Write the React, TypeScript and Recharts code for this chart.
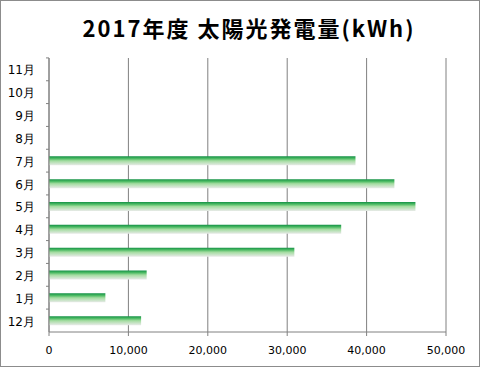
import React from 'react';
import { BarChart, Bar, XAxis, YAxis, CartesianGrid } from 'recharts';

const months = ['12月', '1月', '2月', '3月', '4月', '5月', '6月', '7月', '8月', '9月', '10月', '11月'];
const generation = [11600, 7100, 12300, 30900, 36800, 46150, 43500, 38600, null, null, null, null];
const xTicks = [0, 10000, 20000, 30000, 40000, 50000];

const data = months.map((m, i) => ({ month: m, kwh: generation[i] }));

const BAND = 23;

const MonthTick = (props: any) => {
  const { x, y, payload } = props;
  return (
    <g>
      <line x1={x - 3} x2={x} y1={y - BAND / 2} y2={y - BAND / 2} stroke="#808080" />
      <text x={x - 14} y={y} dy={5} textAnchor="end" fontSize={12} fill="#000" fontFamily="'DejaVu Sans', sans-serif">
        {payload.value}
      </text>
    </g>
  );
};

const App: React.FC = () => {
  return (
    <div
      style={{
        position: 'absolute',
        left: 0,
        top: 0,
        width: 480,
        height: 367,
        border: '1px solid #8c8c8c',
        background: '#fff',
        boxSizing: 'border-box',
      }}
    >
      <div
        style={{
          position: 'absolute',
          top: 11,
          left: 0,
          width: 496,
          textAlign: 'center',
          fontFamily: "'Noto Sans CJK JP', sans-serif",
          fontWeight: 700,
          fontSize: 22,
          letterSpacing: 2,
          color: '#000',
          lineHeight: '30px',
        }}
      >
        2017年度 太陽光発電量(kWh)
      </div>
      <BarChart
        width={480}
        height={367}
        data={data}
        layout="vertical"
        margin={{ top: 57, right: 35, left: 7, bottom: 3 }}
        barSize={9}
      >
        <defs>
          <linearGradient id="barGrad" x1="0" y1="0" x2="0" y2="1">
            <stop offset="0%" stopColor="#139045" />
            <stop offset="25%" stopColor="#4dbb64" />
            <stop offset="50%" stopColor="#a3dca0" />
            <stop offset="100%" stopColor="#e8eae8" />
          </linearGradient>
        </defs>
        <CartesianGrid horizontal={false} stroke="#808080" strokeWidth={1} />
        <XAxis
          type="number"
          domain={[0, 50000]}
          ticks={xTicks}
          tickFormatter={(v: number) => v.toLocaleString('en-US')}
          axisLine={{ stroke: '#808080' }}
          tickLine={{ stroke: '#808080' }}
          tickSize={4}
          tickMargin={10}
          tick={{ fontSize: 11, fill: '#000', fontFamily: "'DejaVu Sans', sans-serif" }}
          height={33}
        />
        <YAxis
          type="category"
          dataKey="month"
          reversed
          width={41}
          axisLine={{ stroke: '#808080' }}
          tickLine={false}
          tickSize={0}
          tickMargin={0}
          tick={<MonthTick />}
          interval={0}
        />
        <Bar dataKey="kwh" fill="url(#barGrad)" isAnimationActive={false} />
      </BarChart>
    </div>
  );
};

export default App;
